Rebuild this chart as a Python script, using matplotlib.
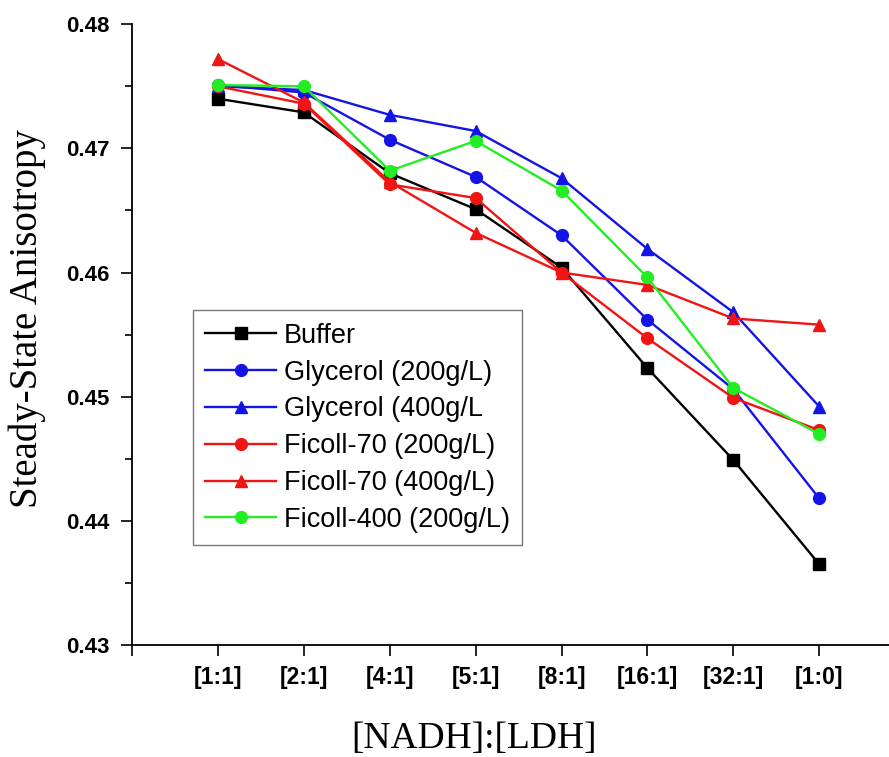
import matplotlib
matplotlib.use("Agg")
import matplotlib.pyplot as plt
from matplotlib.ticker import MultipleLocator

# ratio labels on the x axis
ratios = ["[1:1]", "[2:1]", "[4:1]", "[5:1]", "[8:1]", "[16:1]", "[32:1]", "[1:0]"]

buffer_vals = [0.4740, 0.4729, 0.4680, 0.4651, 0.4604, 0.4523, 0.4449, 0.4365]
glycerol_200 = [0.4751, 0.4745, 0.4707, 0.4677, 0.4630, 0.4562, 0.4506, 0.4418]
glycerol_400 = [0.4750, 0.4747, 0.4727, 0.4714, 0.4676, 0.4619, 0.4568, 0.4492]
ficoll70_200 = [0.4750, 0.4736, 0.4671, 0.4660, 0.4600, 0.4547, 0.4499, 0.4473]
ficoll70_400 = [0.4772, 0.4737, 0.4673, 0.4632, 0.4600, 0.4590, 0.4563, 0.4558]
ficoll400_200 = [0.4751, 0.4750, 0.4682, 0.4706, 0.4666, 0.4596, 0.4507, 0.4470]

series = [
    ("Buffer", buffer_vals, "black", "s"),
    ("Glycerol (200g/L)", glycerol_200, "#1414e6", "o"),
    ("Glycerol (400g/L", glycerol_400, "#1414e6", "^"),
    ("Ficoll-70 (200g/L)", ficoll70_200, "#f01414", "o"),
    ("Ficoll-70 (400g/L)", ficoll70_400, "#f01414", "^"),
    ("Ficoll-400 (200g/L)", ficoll400_200, "#22ee22", "o"),
]

fig = plt.figure(figsize=(8.89, 7.57), dpi=100)
ax = fig.add_axes([0.1485, 0.148, 0.86, 0.82])

x = list(range(1, len(ratios) + 1))
for name, vals, col, mk in series:
    ax.plot(x, vals, color=col, marker=mk, markersize=8.5, linewidth=1.7, label=name)

ax.set_xlim(0, 8.9)
ax.set_ylim(0.43, 0.48)
ax.set_xticks([0] + x)
ax.set_xticklabels([""] + ratios, fontfamily="Liberation Sans", fontweight="bold", fontsize=16.5)
ax.yaxis.set_major_locator(MultipleLocator(0.01))
ax.yaxis.set_minor_locator(MultipleLocator(0.005))
ax.set_yticklabels([f"{v:.2f}" for v in ax.get_yticks()], fontfamily="Liberation Sans",
                   fontweight="bold", fontsize=16)
ax.tick_params(axis="both", which="major", direction="out", length=8, width=1.2)
ax.tick_params(axis="x", which="major", pad=7)
ax.tick_params(axis="y", which="major", pad=8)
ax.tick_params(axis="y", which="minor", direction="out", length=5, width=1.2)

for s in ["top", "right"]:
    ax.spines[s].set_visible(False)
for s in ["left", "bottom"]:
    ax.spines[s].set_linewidth(1.3)

ax.set_ylabel("Steady-State Anisotropy", fontfamily="Liberation Serif", fontsize=28)
ax.yaxis.set_label_coords(-0.112, 0.525)
ax.set_xlabel("[NADH]:[LDH]", fontfamily="Liberation Serif", fontsize=27)
ax.xaxis.set_label_coords(0.447, -0.124)

leg = ax.legend(loc="lower left", bbox_to_anchor=(0.08, 0.161), borderaxespad=0, fancybox=False,
                prop={"family": "Liberation Sans", "size": 19.5}, handlelength=2.6,
                labelspacing=0.4, borderpad=0.45, handletextpad=0.3)
leg.get_frame().set_edgecolor("#555555")
leg.get_frame().set_linewidth(1.0)

fig.savefig("out.png", dpi=100)
